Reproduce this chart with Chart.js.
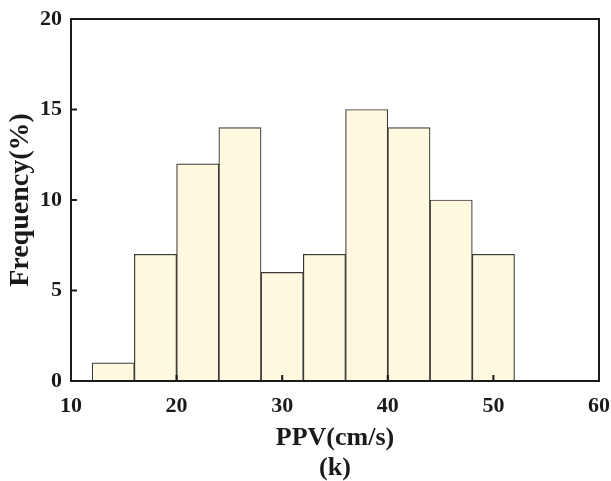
<!DOCTYPE html>
<html lang="en">
<head>
    <meta charset="UTF-8">
    <title>PPV histogram</title>
    <script src="https://cdn.jsdelivr.net/npm/chart.js"></script>
    <style>
        html, body { margin: 0; padding: 0; background: #fff; }
        #wrap { width: 611px; height: 481px; }
    </style>
</head>
<body>
    <div id="wrap"><canvas id="histChart"></canvas></div>
    <script>
        // histogram bins (cm/s) and frequency per bin (%)
        const binEdges = [12, 16, 20, 24, 28, 32, 36, 40, 44, 48, 52];
        const frequency = [1, 7, 12, 14, 6, 7, 15, 14, 10, 7];
        const xTicks = [10, 20, 30, 40, 50, 60];
        const yTicks = [0, 5, 10, 15, 20];

        const points = frequency.map((f, i) => ({
            x: (binEdges[i] + binEdges[i + 1]) / 2,
            y: f
        }));

        const serif = "'Liberation Serif', 'Times New Roman', serif";
        const tickFont = { family: serif, size: 22, weight: 'bold' };
        const titleFont = { family: serif, size: 26, weight: 'bold', lineHeight: 1.15 };

        // box around the plot plus inward tick marks
        const frameBox = {
            id: 'frameBox',
            afterDraw(chart) {
                const { ctx, chartArea: a, scales } = chart;
                ctx.save();
                ctx.strokeStyle = '#1a1a1a';
                ctx.lineWidth = 2;
                ctx.strokeRect(a.left, a.top, a.right - a.left, a.bottom - a.top);
                ctx.beginPath();
                xTicks.forEach(v => {
                    const px = scales.x.getPixelForValue(v);
                    ctx.moveTo(px, a.bottom);
                    ctx.lineTo(px, a.bottom - 6);
                });
                yTicks.forEach(v => {
                    const py = scales.y.getPixelForValue(v);
                    ctx.moveTo(a.left, py);
                    ctx.lineTo(a.left + 6, py);
                });
                ctx.stroke();
                ctx.restore();
            }
        };

        new Chart(document.getElementById('histChart'), {
            type: 'bar',
            data: {
                datasets: [{
                    data: points,
                    backgroundColor: '#fffadf',
                    borderColor: '#3a3a3a',
                    borderWidth: 1.2,
                    barPercentage: 1,
                    categoryPercentage: 1
                }]
            },
            options: {
                responsive: true,
                maintainAspectRatio: false,
                animation: false,
                layout: { padding: { top: 19, right: 12, left: 0, bottom: 0 } },
                plugins: { legend: { display: false }, tooltip: { enabled: false } },
                scales: {
                    x: {
                        type: 'linear',
                        offset: false,
                        min: 10,
                        max: 60,
                        afterBuildTicks: s => { s.ticks = xTicks.map(v => ({ value: v })); },
                        afterFit: s => { s.height = 100; s.paddingLeft = 0; s.paddingRight = 0; },
                        grid: { display: false, drawTicks: false, offset: false },
                        border: { display: false },
                        ticks: { color: '#1a1a1a', font: tickFont, padding: 12, maxRotation: 0 },
                        title: {
                            display: true,
                            text: ['PPV(cm/s)', '(k)'],
                            color: '#1a1a1a',
                            font: titleFont,
                            padding: { top: 0, bottom: -2 }
                        }
                    },
                    y: {
                        min: 0,
                        max: 20,
                        afterBuildTicks: s => { s.ticks = yTicks.map(v => ({ value: v })); },
                        afterFit: s => { s.width = 71; s.paddingTop = 0; s.paddingBottom = 0; },
                        grid: { display: false, drawTicks: false },
                        border: { display: false },
                        ticks: { color: '#1a1a1a', font: tickFont, padding: 9 },
                        title: {
                            display: true,
                            text: 'Frequency(%)',
                            color: '#1a1a1a',
                            font: { family: serif, size: 28, weight: 'bold' },
                            padding: { bottom: 2 }
                        }
                    }
                }
            },
            plugins: [frameBox]
        });
    </script>
</body>
</html>
